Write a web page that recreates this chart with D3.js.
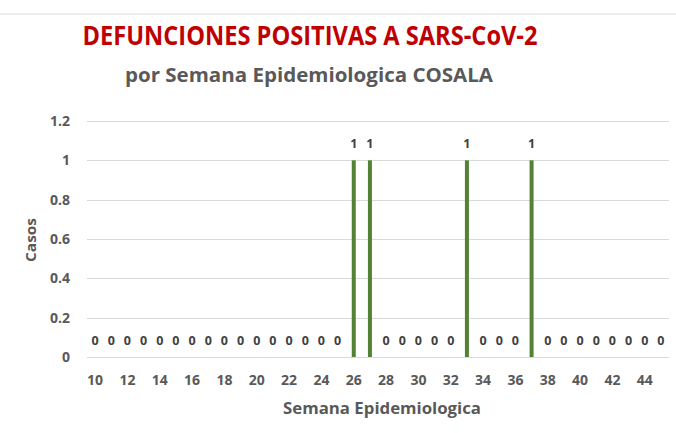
<!DOCTYPE html>
<html>
<head>
<meta charset="utf-8">
<script src="https://cdn.jsdelivr.net/npm/d3@7/dist/d3.min.js"></script>
<style>
  html, body { margin: 0; padding: 0; background: #fff; }
  svg { display: block; }
  text { font-family: "Open Sans", "Noto Sans", sans-serif; font-weight: bold; }
</style>
</head>
<body>
<svg id="chart" width="676" height="433"></svg>
<script>
// Epidemiological weeks 10–45 and deaths per week
const weeks = d3.range(10, 46);
const deaths = [
  0, 0, 0, 0, 0, 0, 0, 0, 0, 0, 0, 0, 0, 0, 0, 0, // 10–25
  1, 1,                                           // 26–27
  0, 0, 0, 0, 0,                                  // 28–32
  1,                                              // 33
  0, 0, 0,                                        // 34–36
  1,                                              // 37
  0, 0, 0, 0, 0, 0, 0, 0                          // 38–45
];
const yTicks = [0, 0.2, 0.4, 0.6, 0.8, 1, 1.2];
const xTickLabels = d3.range(10, 45, 2);

const titleText = "DEFUNCIONES POSITIVAS A SARS-CoV-2";
const subtitleText = "por Semana Epidemiologica  COSALA";
const xTitle = "Semana Epidemiologica";
const yTitle = "Casos";

const svg = d3.select("#chart");
const W = 676, H = 433;
const plot = { left: 87, right: 669, top: 121, bottom: 357 };

svg.append("rect").attr("width", W).attr("height", H).attr("fill", "#fff");
// outer frame edge
svg.append("line").attr("x1", 0).attr("x2", W).attr("y1", 14).attr("y2", 14)
  .attr("stroke", "#e6e6e6").attr("stroke-width", 1.5);

const x = d3.scaleBand().domain(weeks).range([plot.left, plot.right]).padding(0);
const y = d3.scaleLinear().domain([0, 1.2]).range([plot.bottom, plot.top]);

// gridlines
svg.append("g").selectAll("line").data(yTicks).join("line")
  .attr("x1", plot.left).attr("x2", plot.right)
  .attr("y1", d => Math.round(y(d)) + 0.5).attr("y2", d => Math.round(y(d)) + 0.5)
  .attr("stroke", "#d9d9d9").attr("stroke-width", 1);

// y axis labels
const yAxis = d3.axisLeft(y).tickValues(yTicks).tickSize(0).tickPadding(0)
  .tickFormat(d => String(+d.toFixed(1)));
const gy = svg.append("g").attr("transform", `translate(${plot.left - 17},0)`).call(yAxis);
gy.select(".domain").remove();
gy.selectAll("text").attr("fill", "#595959").attr("font-size", 14).attr("font-weight", "bold")
  .attr("font-family", "'Open Sans', sans-serif");

// x axis labels every two weeks
const xAxis = d3.axisBottom(x).tickValues(xTickLabels).tickSize(0).tickPadding(0);
const gx = svg.append("g").attr("transform", `translate(0,${plot.bottom + 18})`).call(xAxis);
gx.select(".domain").remove();
gx.selectAll("text").attr("fill", "#595959").attr("font-size", 14).attr("font-weight", "bold")
  .attr("font-family", "'Open Sans', sans-serif");

// bars
const barW = 4;
svg.append("g").selectAll("rect").data(weeks.map((w, i) => ({ w, v: deaths[i] })))
  .join("rect")
  .attr("x", d => x(d.w) + x.bandwidth() / 2 - barW / 2)
  .attr("y", d => y(d.v))
  .attr("width", barW)
  .attr("height", d => y(0) - y(d.v))
  .attr("fill", "#548235");

// value labels
svg.append("g").selectAll("text").data(weeks.map((w, i) => ({ w, v: deaths[i] })))
  .join("text")
  .attr("x", d => x(d.w) + x.bandwidth() / 2)
  .attr("y", d => y(d.v) - 12)
  .attr("text-anchor", "middle")
  .attr("fill", "#404040").attr("font-size", 12.5)
  .text(d => d.v);

// titles
svg.append("text").attr("x", 310).attr("y", 45).attr("text-anchor", "middle")
  .attr("fill", "#c00000").attr("font-size", 26)
  .attr("textLength", 455).attr("lengthAdjust", "spacingAndGlyphs")
  .text(titleText);
svg.append("text").attr("x", 309).attr("y", 82).attr("text-anchor", "middle")
  .attr("fill", "#595959").attr("font-size", 19.5)
  .attr("textLength", 368).attr("lengthAdjust", "spacingAndGlyphs")
  .text(subtitleText);

// axis titles
svg.append("text").attr("x", 382).attr("y", 414)
  .attr("text-anchor", "middle").attr("fill", "#595959").attr("font-size", 15.5)
  .attr("textLength", 198).attr("lengthAdjust", "spacingAndGlyphs")
  .text(xTitle);
svg.append("text").attr("transform", "translate(36,240) rotate(-90)")
  .attr("text-anchor", "middle").attr("fill", "#595959").attr("font-size", 15)
  .attr("textLength", 44).attr("lengthAdjust", "spacingAndGlyphs")
  .text(yTitle);
</script>
</body>
</html>
